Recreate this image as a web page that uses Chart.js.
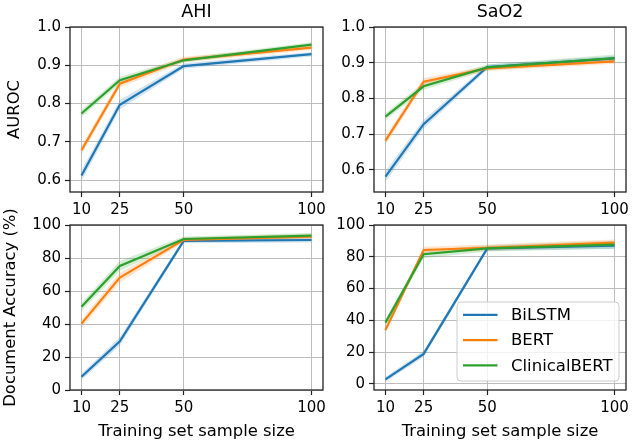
<!DOCTYPE html>
<html><head><meta charset="utf-8">
<script src="https://cdn.jsdelivr.net/npm/chart.js@4.4.0/dist/chart.umd.min.js"></script>
<style>
html,body{margin:0;padding:0;background:#fff;width:633px;height:444px;overflow:hidden}
#wrap{position:relative;width:633px;height:444px}
canvas{position:absolute;left:0;top:0}
</style></head>
<body><div id="wrap">
<canvas id="c1" width="633" height="444"></canvas>
<canvas id="c2" width="633" height="444"></canvas>
<canvas id="c3" width="633" height="444"></canvas>
<canvas id="c4" width="633" height="444"></canvas>
</div>
<script>
// ---- data ----
const seriesNames = ['BiLSTM', 'BERT', 'ClinicalBERT'];
const xTicks = [10, 25, 50, 100];
const aurocTicks = [0.6, 0.7, 0.8, 0.9, 1.0];
const accTicks = [0, 20, 40, 60, 80, 100];

const ahiAurocBiLSTM   = [0.612, 0.797, 0.898, 0.929];
const ahiAurocBERT     = [0.678, 0.852, 0.915, 0.946];
const ahiAurocClinical = [0.774, 0.861, 0.913, 0.954];
const ahiAurocBandBiLSTM   = [0.014, 0.012, 0.007, 0.006];
const ahiAurocBandBERT     = [0.012, 0.010, 0.007, 0.006];
const ahiAurocBandClinical = [0.010, 0.009, 0.006, 0.006];

const sao2AurocBiLSTM   = [0.581, 0.728, 0.888, 0.912];
const sao2AurocBERT     = [0.682, 0.847, 0.884, 0.904];
const sao2AurocClinical = [0.749, 0.834, 0.887, 0.913];
const sao2AurocBandBiLSTM   = [0.015, 0.012, 0.007, 0.007];
const sao2AurocBandBERT     = [0.012, 0.010, 0.007, 0.007];
const sao2AurocBandClinical = [0.010, 0.010, 0.008, 0.010];

const ahiAccBiLSTM   = [8.0, 29.5, 90.4, 90.9];
const ahiAccBERT     = [40.2, 68.1, 91.0, 93.0];
const ahiAccClinical = [50.4, 75.2, 91.5, 93.6];
const ahiAccBandBiLSTM   = [2.0, 2.5, 1.5, 1.5];
const ahiAccBandBERT     = [2.5, 3.0, 1.5, 1.5];
const ahiAccBandClinical = [2.5, 3.0, 1.5, 1.5];

const sao2AccBiLSTM   = [2.9, 18.9, 85.3, 87.0];
const sao2AccBERT     = [34.0, 84.3, 85.7, 88.9];
const sao2AccClinical = [38.6, 81.6, 85.3, 87.6];
const sao2AccBandBiLSTM   = [1.5, 2.0, 1.5, 2.0];
const sao2AccBandBERT     = [2.0, 2.0, 2.0, 2.0];
const sao2AccBandClinical = [2.0, 2.5, 2.0, 2.5];

// ---- styling ----
const colors = ['#1f77b4', '#ff7f0e', '#2ca02c'];
const bandColors = ['rgba(31,119,180,0.2)', 'rgba(255,127,14,0.2)', 'rgba(44,160,44,0.2)'];
const FONT = 'DejaVu Sans';
Chart.defaults.color = '#000';
Chart.defaults.font.family = FONT;
Chart.defaults.devicePixelRatio = 1;

const framePlugin = {
  id: 'frame',
  afterDatasetsDraw(chart) {
    const ca = chart.chartArea, ctx = chart.ctx;
    ctx.save();
    ctx.strokeStyle = '#222';
    ctx.lineWidth = 1.3;
    ctx.strokeRect(ca.left, ca.top, ca.right - ca.left, ca.bottom - ca.top);
    ctx.restore();
  }
};

const legendPlugin = {
  id: 'customLegend',
  afterDraw(chart, args, opts) {
    if (!opts || !opts.show) return;
    const ca = chart.chartArea, ctx = chart.ctx;
    const w = 162, h = 79;
    const x = ca.right - 7 - w, y = ca.bottom - 9 - h;
    ctx.save();
    ctx.beginPath();
    ctx.roundRect(x, y, w, h, 4);
    ctx.fillStyle = 'rgba(255,255,255,0.8)';
    ctx.fill();
    ctx.strokeStyle = '#cccccc';
    ctx.lineWidth = 1;
    ctx.stroke();
    ctx.font = '16.5px "' + FONT + '"';
    ctx.textBaseline = 'middle';
    ctx.textAlign = 'left';
    seriesNames.forEach((name, i) => {
      const yy = y + 12.8 + i * 25.3;
      ctx.beginPath();
      ctx.moveTo(x + 6, yy);
      ctx.lineTo(x + 40.5, yy);
      ctx.strokeStyle = colors[i];
      ctx.lineWidth = 2.2;
      ctx.stroke();
      ctx.fillStyle = '#000';
      ctx.fillText(name, x + 54, yy + 1);
    });
    ctx.restore();
  }
};

function makeChart(id, o) {
  const datasets = [];
  o.series.forEach((vals, i) => {
    const band = o.bands[i];
    const lowIdx = datasets.length;
    datasets.push({
      data: xTicks.map((x, k) => ({x: x, y: vals[k] - band[k]})),
      borderColor: 'transparent', borderWidth: 0, pointRadius: 0, fill: false, order: 20 + i
    });
    datasets.push({
      data: xTicks.map((x, k) => ({x: x, y: vals[k] + band[k]})),
      borderColor: 'transparent', borderWidth: 0, pointRadius: 0,
      backgroundColor: bandColors[i], fill: lowIdx, order: 20 + i
    });
  });
  o.series.forEach((vals, i) => {
    datasets.push({
      label: seriesNames[i],
      data: xTicks.map((x, k) => ({x: x, y: vals[k]})),
      borderColor: colors[i], borderWidth: 2.2, pointRadius: 0, fill: false,
      tension: 0, order: 2 - i
    });
  });
  const titleLH = 17.5 * 1.2;
  new Chart(document.getElementById(id), {
    type: 'line',
    data: {datasets},
    options: {
      responsive: false,
      animation: false,
      events: [],
      layout: {
        autoPadding: false,
        padding: {
          left: o.L - o.yW,
          right: 633 - o.R,
          top: 1.5,
          bottom: 444 - o.B - o.xH
        }
      },
      plugins: {
        legend: {display: false},
        tooltip: {enabled: false},
        title: {
          display: true, text: o.title, fullSize: false,
          font: {size: 17.5, family: FONT, weight: 'normal'},
          color: '#000',
          padding: {top: 0, bottom: o.T - 1.5 - titleLH}
        },
        customLegend: {show: !!o.legend}
      },
      scales: {
        x: {
          type: 'linear', min: 5.5, max: 104.5,
          afterBuildTicks: s => { s.ticks = xTicks.map(v => ({value: v})); },
          afterFit: s => { s.height = o.xH; s.paddingLeft = 0; s.paddingRight = 0; },
          ticks: {font: {size: 15}, padding: 4, maxRotation: 0, autoSkip: false,
                  callback: v => String(v)},
          grid: {color: '#bdbdbd', lineWidth: 1, tickLength: 5, tickColor: '#222', tickWidth: 1.2},
          border: {display: false},
          title: {display: !!o.xTitle, text: o.xTitle || '', font: {size: 16.4}, padding: 0, color: '#000'}
        },
        y: {
          type: 'linear', min: o.yMin, max: o.yMax,
          afterBuildTicks: s => { s.ticks = o.yTicks.map(v => ({value: v})); },
          afterFit: s => { s.width = o.yW; s.paddingTop = 0; s.paddingBottom = 0; },
          ticks: {font: {size: 15}, padding: 4, callback: o.fmt},
          grid: {color: '#bdbdbd', lineWidth: 1, tickLength: 5, tickColor: '#222', tickWidth: 1.2},
          border: {display: false},
          title: {display: !!o.yTitle, text: o.yTitle || '', font: {size: 16.4}, padding: 0, color: '#000'}
        }
      }
    },
    plugins: [framePlugin, legendPlugin]
  });
}

const fmt1 = v => Number(v).toFixed(1);
const fmt0 = v => String(Math.round(v));

makeChart('c1', {L: 70, R: 323, T: 27, B: 192, yW: 65, xH: 40, title: 'AHI', yTitle: 'AUROC',
  yMin: 0.569, yMax: 1.0, yTicks: aurocTicks, fmt: fmt1,
  series: [ahiAurocBiLSTM, ahiAurocBERT, ahiAurocClinical],
  bands: [ahiAurocBandBiLSTM, ahiAurocBandBERT, ahiAurocBandClinical]});
makeChart('c2', {L: 374, R: 626, T: 27, B: 192, yW: 50, xH: 40, title: 'SaO2',
  yMin: 0.538, yMax: 1.0, yTicks: aurocTicks, fmt: fmt1,
  series: [sao2AurocBiLSTM, sao2AurocBERT, sao2AurocClinical],
  bands: [sao2AurocBandBiLSTM, sao2AurocBandBERT, sao2AurocBandClinical]});
makeChart('c3', {L: 70, R: 323, T: 225, B: 390, yW: 69, xH: 52, title: '', yTitle: 'Document Accuracy (%)',
  xTitle: 'Training set sample size',
  yMin: 0, yMax: 100, yTicks: accTicks, fmt: fmt0,
  series: [ahiAccBiLSTM, ahiAccBERT, ahiAccClinical],
  bands: [ahiAccBandBiLSTM, ahiAccBandBERT, ahiAccBandClinical]});
makeChart('c4', {L: 374, R: 626, T: 225, B: 390, yW: 50, xH: 52, title: '', legend: true,
  xTitle: 'Training set sample size',
  yMin: -3.8, yMax: 100, yTicks: accTicks, fmt: fmt0,
  series: [sao2AccBiLSTM, sao2AccBERT, sao2AccClinical],
  bands: [sao2AccBandBiLSTM, sao2AccBandBERT, sao2AccBandClinical]});
</script>
</body></html>
